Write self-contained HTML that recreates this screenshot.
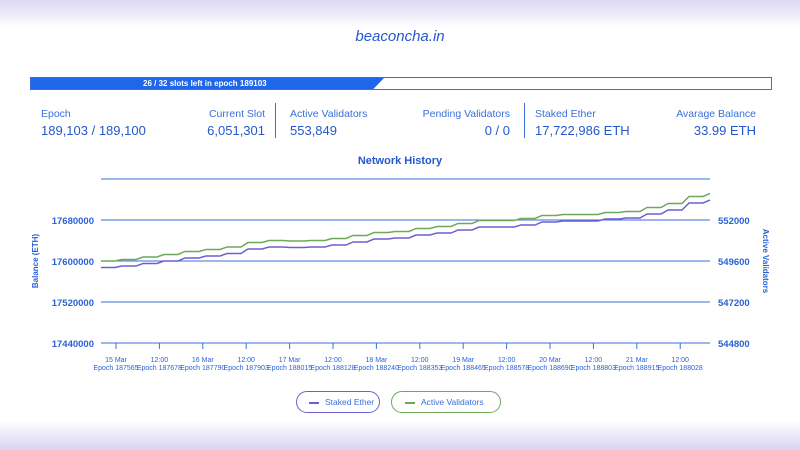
<!DOCTYPE html>
<html><head><meta charset="utf-8"><style>
body{margin:0;width:800px;height:450px;overflow:hidden;font-family:"Liberation Sans",sans-serif;color:#2a62d6;
background:linear-gradient(to bottom,#dcd8f3 0,#fff 28px,#fff 420px,#d8d3f2 450px);position:relative}
.abs{position:absolute}
.lbl{font-size:10.5px;color:#3a6fdc}
.val{font-size:13px;color:#2458cc}
</style></head><body>
<div class="abs" style="left:0;width:800px;top:28px;text-align:center;font-size:15px;font-style:italic;color:#2458cc">beaconcha.in</div>
<div class="abs" style="left:30px;top:77px;width:740px;height:11px;border:1px solid #3a6fdc;background:#fff">
 <div style="position:absolute;left:0;top:0;height:11px;width:353px;background:#1f66e8;clip-path:polygon(0 0,100% 0,97% 100%,0 100%)"></div>
 <div style="position:absolute;left:112px;top:0;font-size:8px;line-height:11px;color:#fff;font-weight:bold">26 / 32 slots left in epoch 189103</div>
</div>
<div class="abs lbl" style="left:41px;top:108px">Epoch</div>
<div class="abs val" style="left:41px;top:123px">189,103 / 189,100</div>
<div class="abs lbl" style="right:535px;top:108px">Current Slot</div>
<div class="abs val" style="right:535px;top:123px">6,051,301</div>
<div class="abs" style="left:275px;top:103px;width:1px;height:35px;background:#3a6fdc"></div>
<div class="abs lbl" style="left:290px;top:108px">Active Validators</div>
<div class="abs val" style="left:290px;top:123px">553,849</div>
<div class="abs lbl" style="right:290px;top:108px">Pending Validators</div>
<div class="abs val" style="right:290px;top:123px">0 / 0</div>
<div class="abs" style="left:524px;top:103px;width:1px;height:35px;background:#3a6fdc"></div>
<div class="abs lbl" style="left:535px;top:108px">Staked Ether</div>
<div class="abs val" style="left:535px;top:123px">17,722,986 ETH</div>
<div class="abs lbl" style="right:44px;top:108px">Avarage Balance</div>
<div class="abs val" style="right:44px;top:123px">33.99 ETH</div>
<div class="abs" style="left:0;width:800px;top:155px;text-align:center;font-size:11px;font-weight:bold;color:#2458cc">Network History</div>
<svg class="abs" style="left:0;top:0" width="800" height="450">
<g id="g"></g>
</svg>
<div class="abs" style="left:296px;top:391px;width:82px;height:20px;border:1px solid #6e5fd0;border-radius:11px;font-size:8.5px;line-height:20px;color:#3a6fdc"><span style="display:inline-block;width:10px;height:2px;background:#6e5fd0;vertical-align:middle;margin:0 6px 0 12px"></span>Staked Ether</div>
<div class="abs" style="left:391px;top:391px;width:108px;height:20px;border:1px solid #6ea85a;border-radius:11px;font-size:8.5px;line-height:20px;color:#3a6fdc"><span style="display:inline-block;width:10px;height:2px;background:#6ea85a;vertical-align:middle;margin:0 6px 0 13px"></span>Active Validators</div>
<script>
const leftTicks=[17440000,17520000,17600000,17680000,17760000];
const rightTicks=[544800,547200,549600,552000];
const xDates=["15 Mar","12:00","16 Mar","12:00","17 Mar","12:00","18 Mar","12:00","19 Mar","12:00","20 Mar","12:00","21 Mar","12:00"];
const xEpochs=["Epoch 187565","Epoch 187678","Epoch 187790","Epoch 187903","Epoch 188015","Epoch 188128","Epoch 188240","Epoch 188353","Epoch 188465","Epoch 188578","Epoch 188690","Epoch 188803","Epoch 188915","Epoch 188028"];
const stakedEther=[17587300,17590200,17595100,17600000,17605900,17609800,17614600,17623400,17627300,17626300,17627300,17631200,17637100,17642900,17644900,17650700,17654600,17660500,17666300,17666300,17670200,17676100,17678000,17678000,17681900,17683900,17691700,17699500,17713200,17719000];
const activeValidators=[549600,549688,549834,549981,550157,550274,550420,550683,550800,550771,550800,550917,551093,551269,551327,551503,551620,551796,551971,551971,552088,552264,552322,552322,552439,552498,552732,552966,553376,553552];
const X0=101,X1=710,Y0=343,Y1=179;
const yL=v=>Y0-(v-17440000)/(17760000-17440000)*(Y0-Y1);
const yR=v=>Y0-(v-544800)/(554400-544800)*(Y0-Y1);
const xS=i=>X0+i*(X1-X0)/(stakedEther.length-1);
const xT=i=>116+i*43.4;
const g=document.getElementById('g');const NS='http://www.w3.org/2000/svg';
function mk(t,a,txt){const e=document.createElementNS(NS,t);for(const k in a)e.setAttribute(k,a[k]);if(txt!=null)e.textContent=txt;g.appendChild(e);return e;}
leftTicks.forEach((v,i)=>{const y=yL(v);
const l=mk('line',{x1:X0,x2:X1,y1:y,y2:y,stroke:'#3a6fdc','stroke-width':1});

if(i<leftTicks.length-1){const t=mk('text',{x:94,y:y+4,'text-anchor':'end','font-size':9.5,'font-weight':'bold',fill:'#2a62d6'},v);
}});
rightTicks.forEach(v=>{const t=mk('text',{x:718,y:yR(v)+4,'font-size':9.5,'font-weight':'bold',fill:'#2a62d6'},v);
});
xDates.forEach((d,i)=>{const x=xT(i);
const tk=mk('line',{x1:x,x2:x,y1:Y0,y2:Y0+6,stroke:'#3a6fdc'});
const a=mk('text',{x:x,y:362,'text-anchor':'middle','font-size':7,fill:'#2a62d6'},d);
const b=mk('text',{x:x,y:370,'text-anchor':'middle','font-size':7,fill:'#2a62d6'},xEpochs[i]);});
function step(vals,yf){let p=[];vals.forEach((v,i)=>{const x=xS(i),y=yf(v);p.push(x+','+y);if(i<vals.length-1)p.push((x+14)+','+y);});return p.join(' ');}
const pg=mk('polyline',{points:step(activeValidators,yR),fill:'none',stroke:'#6ea85a','stroke-width':1.5});

const pp=mk('polyline',{points:step(stakedEther,yL),fill:'none',stroke:'#6e5fd0','stroke-width':1.5});

const yl=mk('text',{x:0,y:0,transform:'translate(38,261) rotate(-90)','text-anchor':'middle','font-size':8,'font-weight':'bold',fill:'#2a62d6'},'Balance (ETH)');

const yr=mk('text',{x:0,y:0,transform:'translate(763,261) rotate(90)','text-anchor':'middle','font-size':8,'font-weight':'bold',fill:'#2a62d6'},'Active Validators');

</script>
</body></html>
